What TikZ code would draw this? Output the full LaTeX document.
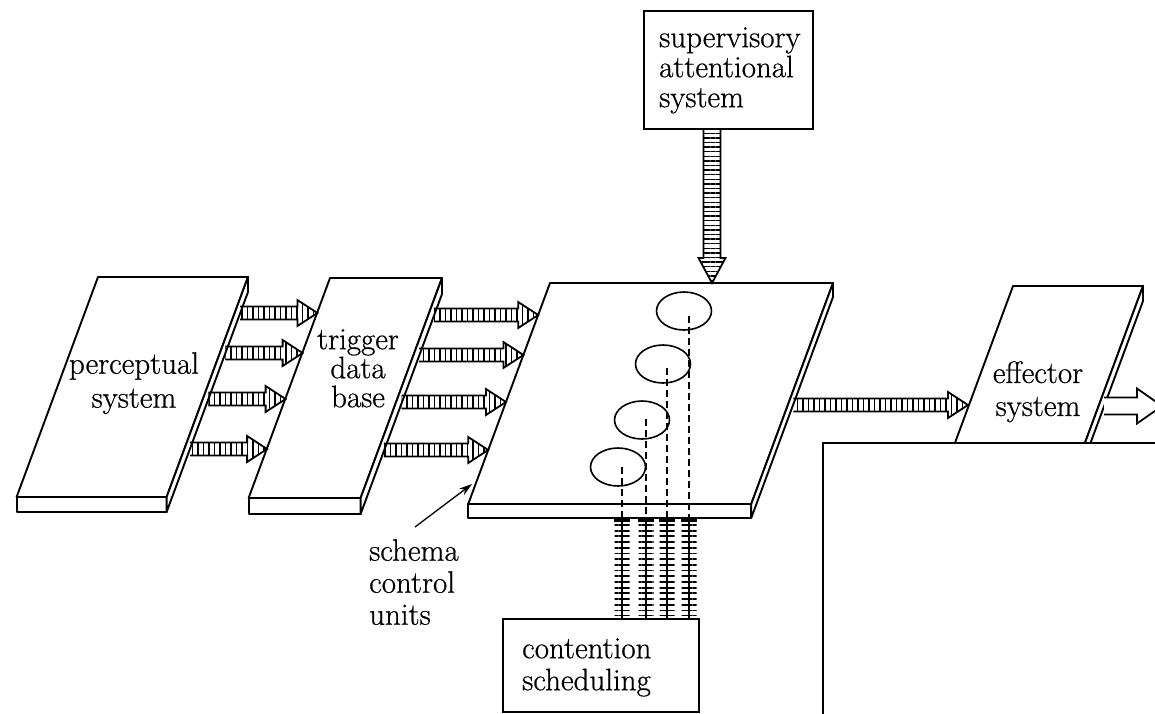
\documentclass[tikz,border=0pt]{standalone}
\usepackage{fontspec}
\setmainfont{Latin Modern Roman}[FakeBold=0.6]
\usetikzlibrary{calc,patterns.meta,arrows.meta,shapes.geometric}
\tikzset{
 slabline/.style={line width=1.9pt, line join=round},
 arrline/.style={line width=1.8pt, line join=miter},
 hpat/.style={pattern={Lines[angle=90,distance=5.5pt,line width=1.6pt]}},
 vpat/.style={pattern={Lines[angle=0,distance=4.6pt,line width=1.4pt]}},
 tpat/.style={pattern={Lines[angle=0,distance=5.7pt,line width=1.8pt]}},
 lbl/.style={font=\fontsize{31}{32}\selectfont, inner sep=0pt},
 boxline/.style={line width=1.7pt},
 unit/.style={draw, ellipse, line width=1.6pt, minimum width=55pt, minimum height=38pt, inner sep=0pt},
 dashline/.style={line width=1.7pt, dash pattern=on 7pt off 4pt},
}
\newcommand\slab[6]{%
 \pgfmathsetmacro\slabdx{0.37*#5}
 \coordinate (#1A) at (#2,#3);
 \coordinate (#1B) at (#2+#4,#3);
 \coordinate (#1C) at (#2+#4-\slabdx,#3+#5);
 \coordinate (#1D) at (#2-\slabdx,#3+#5);
 \draw[slabline, fill=white] (#1A) -- (#1B) -- (#1C) -- (#1D) -- cycle;
 \draw[slabline, fill=white] (#1D) -- ++(0,#6) -- ($(#1C)+(0,#6)$) -- (#1C) -- cycle;
 \draw[slabline, fill=white] (#1B) -- ++(0,#6) -- ($(#1C)+(0,#6)$) -- (#1C) -- cycle;
}
\newcommand\hatchH[2]{%
 \draw[arrline, hpat] let \p1=(#1), \p2=(#2) in
 (\x1,\y1+6.5pt) -- (\x2-20pt,\y1+6.5pt) -- (\x2-20pt,\y1+13pt) -- (\x2,\y1) -- (\x2-20pt,\y1-13pt) -- (\x2-20pt,\y1-6.5pt) -- (\x1,\y1-6.5pt);
}
\newcommand\hatchV[2]{%
 \draw[arrline, vpat] let \p1=(#1), \p2=(#2) in
 (\x1-8.5pt,\y1) -- (\x1-8.5pt,\y2+25pt) -- (\x1-13.5pt,\y2+25pt) -- (\x1,\y2) -- (\x1+13.5pt,\y2+25pt) -- (\x1+8.5pt,\y2+25pt) -- (\x1+8.5pt,\y1);
}
\newcommand\hollowH[2]{%
 \draw[arrline, fill=white] let \p1=(#1), \p2=(#2) in
 (\x1,\y1+8.5pt) -- (\x2-25pt,\y1+8.5pt) -- (\x2-25pt,\y1+17.5pt) -- (\x2,\y1) -- (\x2-25pt,\y1-17.5pt) -- (\x2-25pt,\y1-8.5pt) -- (\x1,\y1-8.5pt);
}
\begin{document}
\begin{tikzpicture}[x=1pt,y=-1pt]
\fill[white] (0,0) rectangle (1155,713);
\useasboundingbox (0,0) rectangle (1155,713);

% slabs
\slab{p}{98}{277}{150}{220}{15}
\slab{t}{330}{278}{112}{220}{16}
\slab{s}{550}{283}{283}{221}{14}
\slab{e}{1013}{286}{130}{220}{15}

% labels on slabs
\node[lbl, align=center, anchor=north, font=\fontsize{31}{34}\selectfont] (plbl) at (134,352) {perceptual\\system};
\node[lbl, align=center, anchor=north, font=\fontsize{31}{29}\selectfont] (tlbl) at (358,329) {trigger\\data\\base};
\node[lbl, align=center, anchor=north, font=\fontsize{31}{33}\selectfont] (elbl) at (1038,361) {effector\\system};

% perceptual -> trigger
\coordinate (pt1s) at (240.2,313); \coordinate (pt1e) at (317.4,313);
\coordinate (pt2s) at (225.4,353); \coordinate (pt2e) at (302.6,353);
\coordinate (pt3s) at (208.4,399); \coordinate (pt3e) at (285.6,399);
\coordinate (pt4s) at (189.9,449); \coordinate (pt4e) at (267.1,449);
\hatchH{pt1s}{pt1e}\hatchH{pt2s}{pt2e}\hatchH{pt3s}{pt3e}\hatchH{pt4s}{pt4e}

% trigger -> schema
\coordinate (ts1s) at (433.9,315); \coordinate (ts1e) at (538.2,315);
\coordinate (ts2s) at (419.1,355); \coordinate (ts2e) at (523.4,355);
\coordinate (ts3s) at (401.7,402); \coordinate (ts3e) at (506.0,402);
\coordinate (ts4s) at (383.9,450); \coordinate (ts4e) at (488.2,450);
\hatchH{ts1s}{ts1e}\hatchH{ts2s}{ts2e}\hatchH{ts3s}{ts3e}\hatchH{ts4s}{ts4e}

% schema -> effector
\coordinate (se1s) at (793.4,405); \coordinate (se1e) at (968,405);
\hatchH{se1s}{se1e}

% effector output
\coordinate (eos) at (1104,406); \coordinate (eoe) at (1162,406);
\hollowH{eos}{eoe}

% supervisory attentional system
\node[draw, boxline, fill=white, anchor=north west, minimum width=169pt, minimum height=118pt, inner sep=0pt] (sas) at (643,10) {};
\node[lbl, align=left, anchor=north west, font=\fontsize{31}{30}\selectfont] (saslbl) at (659,27) {supervisory\\attentional\\system};
\coordinate (sasout) at (712,128);
\coordinate (sasin) at (712,283);
\hatchV{sasout}{sasin}

% schema units (ellipses)
\node[unit] (u1) at (684,311) {};
\node[unit] (u2) at (663,364) {};
\node[unit] (u3) at (642,420) {};
\node[unit] (u4) at (618,467) {};

% contention scheduling
\node[draw, boxline, fill=white, anchor=north west, minimum width=196pt, minimum height=93pt, inner sep=0pt] (cs) at (502,618) {};
\node[lbl, align=left, anchor=north west] (cslbl) at (522,638) {contention\\scheduling};

% dashed and ladder lines
\foreach \i/\x/\y in {1/689/316, 2/667/368, 3/646/419, 4/622/467}{
  \coordinate (d\i top) at (\x,\y);
  \coordinate (d\i mid) at (\x,518);
  \coordinate (d\i bot) at (\x,618);
  \draw[dashline] (d\i top) -- (d\i mid);
  \path[tpat] ($(d\i mid)+(-7.5,5)$) rectangle ($(d\i bot)+(7.5,-3)$);
  \draw[line width=3.5pt] ($(d\i mid)+(-8,2)$) -- ($(d\i mid)+(8,2)$);
  \draw[line width=2.2pt] (d\i mid) -- (d\i bot);
}

% schema control units label
\node[lbl, align=left, anchor=north west] (sculbl) at (369,539) {schema\\control\\units};
\coordinate (scutail) at (415,527);
\coordinate (scutip) at (472,484);
\draw[line width=1.3pt, -{Stealth[length=13pt,width=8pt]}] (scutail) -- (scutip);

% occluding panel
\fill[white] (823,443) rectangle (1160,720);
\draw[boxline] (823,720) -- (823,443) -- (1160,443);
\end{tikzpicture}
\end{document}
